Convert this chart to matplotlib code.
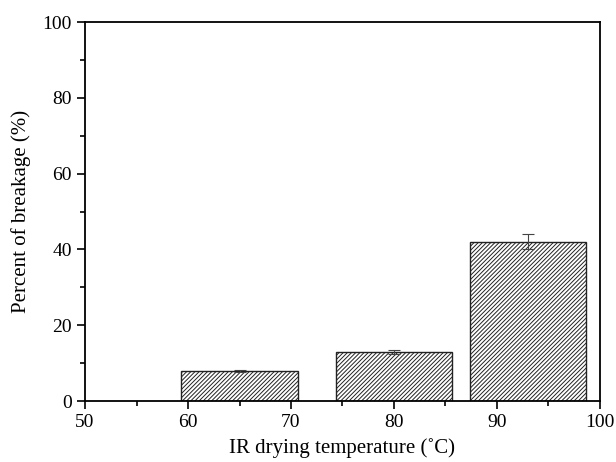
import numpy as np
import matplotlib
matplotlib.use("Agg")
import matplotlib.pyplot as plt
from matplotlib.ticker import MultipleLocator

# breakage at each IR drying temperature
temps = [65, 80, 93]
breakage = [8.0, 13.0, 42.0]
errors = [0.3, 0.5, 2.0]

plt.rcParams['font.family'] = ['Liberation Serif', 'DejaVu Serif']
plt.rcParams['hatch.color'] = '#333333'
plt.rcParams['hatch.linewidth'] = 0.7

fig = plt.figure(figsize=(6.16, 4.62), dpi=100)
ax = fig.add_axes([0.138, 0.132, 0.836, 0.820])

ax.bar(temps, breakage, width=11.3, color='white', edgecolor='#222222',
       linewidth=1.0, hatch='////////', zorder=2)
ax.errorbar(temps, breakage, yerr=errors, fmt='none', ecolor='#444444',
            elinewidth=0.8, capsize=4, capthick=0.8, zorder=3)

ax.set_xlim(50, 100)
ax.set_ylim(0, 100)
ax.xaxis.set_major_locator(MultipleLocator(10))
ax.xaxis.set_minor_locator(MultipleLocator(5))
ax.yaxis.set_major_locator(MultipleLocator(20))
ax.yaxis.set_minor_locator(MultipleLocator(10))
ax.tick_params(which='both', direction='out', top=False, right=False,
               labelsize=14, width=1.2)
ax.tick_params(which='major', length=6)
ax.tick_params(which='minor', length=3.5)
for s in ax.spines.values():
    s.set_linewidth(1.3)

ax.set_xlabel('IR drying temperature (˚C)', fontsize=15, labelpad=5)
ax.set_ylabel('Percent of breakage (%)', fontsize=15, labelpad=8)

fig.savefig('out.png', dpi=100)
